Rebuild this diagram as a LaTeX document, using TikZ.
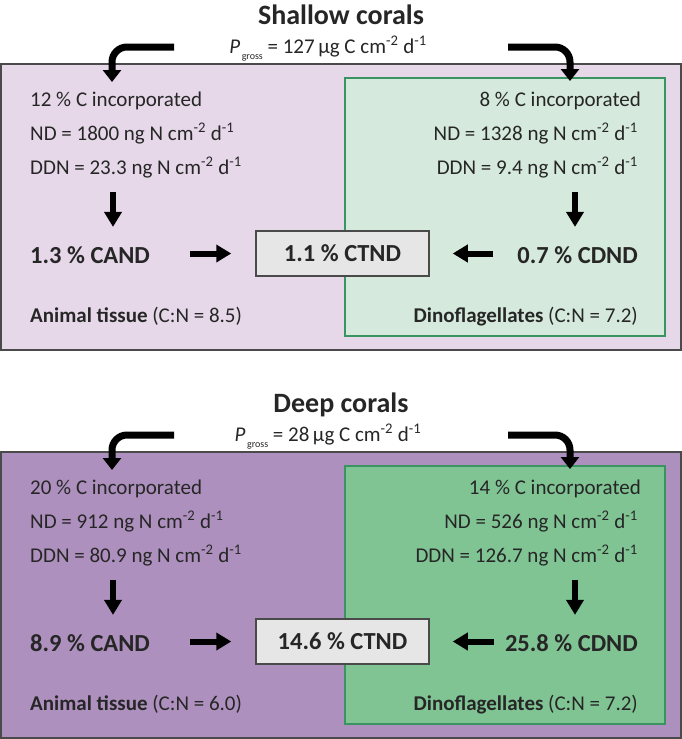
\documentclass[tikz,border=0pt]{standalone}
\usepackage{fontspec}
\setmainfont{Carlito}
\usetikzlibrary{arrows.meta}
\definecolor{ink}{HTML}{262626}
\definecolor{purpS}{HTML}{E6D8E9}
\definecolor{greenS}{HTML}{D5EADC}
\definecolor{purpD}{HTML}{AD90BD}
\definecolor{greenD}{HTML}{80C494}
\definecolor{greenline}{HTML}{3A9461}
\definecolor{frame}{HTML}{4A4A4A}
\definecolor{totfill}{HTML}{E6E6E6}
\newcommand{\unitC}{\,µg C cm\textsuperscript{-2} d\textsuperscript{-1}}
\newcommand{\unitN}{ ng N cm\textsuperscript{-2} d\textsuperscript{-1}}
\newcommand{\Pg}{\textit{P}\raisebox{-6pt}{\fontsize{10}{10}\selectfont\,gross}}
\begin{document}
\begin{tikzpicture}[x=1pt,y=-1pt,
  txt/.style={font=\fontsize{21}{25}\selectfont,text=ink,inner sep=0pt},
  big/.style={font=\fontsize{24.5}{29}\selectfont\bfseries,text=ink,inner sep=0pt},
  ttl/.style={font=\fontsize{28}{33}\selectfont\bfseries,text=ink,inner sep=0pt},
  tot/.style={draw=frame,line width=1.5pt,fill=totfill,minimum width=173pt,minimum height=45pt,inner sep=0pt,font=\fontsize{24.5}{29}\selectfont\bfseries,text=ink},
  arr/.style={line width=6pt,-{Triangle[width=17pt,length=15pt]}},
  bent/.style={line width=7pt,rounded corners=15pt,-{Triangle[width=18pt,length=12pt]}}]
  \useasboundingbox (0,0) rectangle (682,739);
  \draw[frame,line width=2pt,fill=purpS] (1,64) rectangle (681,350);
  \draw[greenline,line width=1.5pt,fill=greenS] (345,78) rectangle (665,336);
  \draw[frame,line width=2pt,fill=purpD] (1,452) rectangle (681,738);
  \draw[greenline,line width=1.5pt,fill=greenD] (345,466) rectangle (665,724);
  % shallow
  \node[ttl,anchor=base] (titS) at (341,24){Shallow corals};
  \node[txt,anchor=base] (pgS) at (328,53){\Pg{} = 127\unitC};
  \node[txt,anchor=base west] (incAs) at (30,106){12 \% C incorporated};
  \node[txt,anchor=base west] (ndAs) at (30,140){ND = 1800\unitN};
  \node[txt,anchor=base west] (ddnAs) at (30,174){DDN = 23.3\unitN};
  \node[big,anchor=base west] (candS) at (30,263){1.3 \% CAND};
  \node[txt,anchor=base west] (anS) at (30,322){\textbf{Animal tissue} (C:N = 8.5)};
  \node[txt,anchor=base east] (incDs) at (641,106){8 \% C incorporated};
  \node[txt,anchor=base east] (ndDs) at (638,140){ND = 1328\unitN};
  \node[txt,anchor=base east] (ddnDs) at (638,174){DDN = 9.4\unitN};
  \node[big,anchor=base east] (cdndS) at (638,263){0.7 \% CDND};
  \node[txt,anchor=base east] (dinoS) at (638,322){\textbf{Dinoflagellates} (C:N = 7.2)};
  \node[tot] (totS) at (342.5,253.5){1.1 \% CTND};
  \coordinate (inLs) at (174,47);
  \coordinate (tipLs) at (112,82);
  \coordinate (inRs) at (508,47);
  \coordinate (tipRs) at (570,81);
  \coordinate (dnL) at (113,0);
  \coordinate (dnR) at (575,0);
  \draw[bent] (inLs) -| (tipLs);
  \draw[bent] (inRs) -| (tipRs);
  \draw[arr,shorten <=14pt,shorten >=19pt] (ddnAs.south -| dnL) -- (candS.north -| dnL);
  \draw[arr,shorten <=14pt,shorten >=19pt] (ddnDs.south -| dnR) -- (cdndS.north -| dnR);
  \draw[arr,shorten <=40pt,shorten >=24pt] (candS.east |- totS) -- (totS.west);
  \draw[arr,shorten <=24pt,shorten >=23pt] (cdndS.west |- totS) -- (totS.east);
  % deep
  \node[ttl,anchor=base] (titD) at (341,412){Deep corals};
  \node[txt,anchor=base] (pgD) at (328,441){\Pg{} = 28\unitC};
  \node[txt,anchor=base west] (incAd) at (30,494){20 \% C incorporated};
  \node[txt,anchor=base west] (ndAd) at (30,528){ND = 912\unitN};
  \node[txt,anchor=base west] (ddnAd) at (30,562){DDN = 80.9\unitN};
  \node[big,anchor=base west] (candD) at (30,651){8.9 \% CAND};
  \node[txt,anchor=base west] (anD) at (30,710){\textbf{Animal tissue} (C:N = 6.0)};
  \node[txt,anchor=base east] (incDd) at (641,494){14 \% C incorporated};
  \node[txt,anchor=base east] (ndDd) at (638,528){ND = 526\unitN};
  \node[txt,anchor=base east] (ddnDd) at (638,562){DDN = 126.7\unitN};
  \node[big,anchor=base east] (cdndD) at (638,651){25.8 \% CDND};
  \node[txt,anchor=base east] (dinoD) at (638,710){\textbf{Dinoflagellates} (C:N = 7.2)};
  \node[tot] (totD) at (342.5,641.5){14.6 \% CTND};
  \coordinate (inLd) at (174,435);
  \coordinate (tipLd) at (112,470);
  \coordinate (inRd) at (508,435);
  \coordinate (tipRd) at (570,469);
  \draw[bent] (inLd) -| (tipLd);
  \draw[bent] (inRd) -| (tipRd);
  \draw[arr,shorten <=14pt,shorten >=19pt] (ddnAd.south -| dnL) -- (candD.north -| dnL);
  \draw[arr,shorten <=14pt,shorten >=19pt] (ddnDd.south -| dnR) -- (cdndD.north -| dnR);
  \draw[arr,shorten <=40pt,shorten >=24pt] (candD.east |- totD) -- (totD.west);
  \draw[arr,shorten <=11pt,shorten >=23pt] (cdndD.west |- totD) -- (totD.east);
\end{tikzpicture}
\end{document}
